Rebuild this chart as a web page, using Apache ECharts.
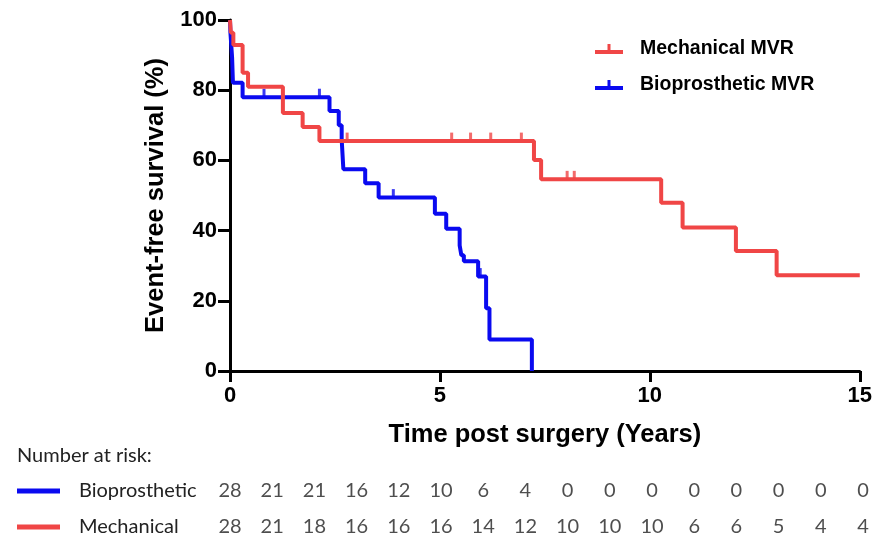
<!DOCTYPE html>
<html>
<head>
<meta charset="utf-8">
<script src="https://cdn.jsdelivr.net/npm/echarts@6/dist/echarts.min.js"></script>
<style>html,body{margin:0;padding:0;background:#fff}#c{width:875px;height:537px}</style>
</head>
<body>
<div id="c"></div>
<script>
// Kaplan-Meier step points (time in years, survival %)
var mechTime = [0, 0.02, 0.08, 0.30, 0.43, 1.26, 1.73, 2.13, 7.24, 7.41, 10.27, 10.78, 12.05, 13.02, 15];
var mechSurv = [100, 96.4, 92.9, 85.0, 81.0, 73.5, 69.5, 65.5, 60.1, 54.6, 47.9, 40.9, 34.2, 27.3, 27.3];
var bioTime = [0, 0.01, 0.03, 0.05, 0.07, 0.30, 2.37, 2.59, 2.66, 2.70, 3.22, 3.54, 4.88, 5.15, 5.47, 5.51, 5.57, 5.91, 6.10, 6.18, 7.19];
var bioSurv = [100, 96.4, 92.9, 89.3, 82.1, 78.0, 74.1, 70.0, 66.0, 57.5, 53.5, 49.4, 44.8, 40.5, 35.8, 33.0, 31.3, 26.9, 17.9, 9.0, 0];
// censored observations
var mechCensTime = [2.79, 5.28, 5.73, 6.21, 6.94, 8.03, 8.20];
var mechCensSurv = [65.5, 65.5, 65.5, 65.5, 65.5, 54.6, 54.6];
var bioCensTime = [0.81, 2.13, 3.89, 5.96];
var bioCensSurv = [78.0, 78.0, 49.4, 26.9];
// number at risk at each year
var riskYears = [0,1,2,3,4,5,6,7,8,9,10,11,12,13,14,15];
var bioRisk = [28,21,21,16,12,10,6,4,0,0,0,0,0,0,0,0];
var mechRisk = [28,21,18,16,16,16,14,12,10,10,10,6,6,5,4,4];

var RED = '#f04646', BLUE = '#0a0af0';
var BOLD = 'Liberation Sans, Arial, sans-serif';
function zip(a, b) { return a.map(function (v, i) { return [v, b[i]]; }); }
function riskData(arr, row) { return riskYears.map(function (y, i) { return [y, row, arr[i]]; }); }

var chart = echarts.init(document.getElementById('c'), null, {renderer: 'canvas'});
var iconPath = 'path://M0,6h28v4h-28z M12.5,0h3v6h-3z';
var riskLabel = {show: true, position: 'inside', formatter: function (p) { return p.value[2]; },
                 fontFamily: 'Lato', fontSize: 20, color: '#222'};
chart.setOption({
  animation: false,
  backgroundColor: '#fff',
  title: {
    text: 'Number at risk:', left: 12, top: 441,
    textStyle: {fontFamily: 'Lato', fontSize: 20, fontWeight: 'normal', color: '#222'}
  },
  legend: {
    orient: 'vertical', left: 590, top: 34, itemWidth: 28, itemHeight: 10, itemGap: 16,
    data: [{name: 'Mechanical MVR', icon: iconPath}, {name: 'Bioprosthetic MVR', icon: iconPath}],
    textStyle: {fontFamily: BOLD, fontSize: 19.5, fontWeight: 'bold', color: '#000', padding: [0, 0, 0, 12]}
  },
  grid: [
    {left: 230, right: 12, top: 20, bottom: 166},
    {left: 230, right: 12, top: 491, bottom: 10}
  ],
  xAxis: [{
    type: 'value', gridIndex: 0, min: 0, max: 15, interval: 5,
    name: 'Time post surgery (Years)', nameLocation: 'middle', nameGap: 51,
    nameTextStyle: {fontFamily: BOLD, fontSize: 25.5, fontWeight: 'bold', color: '#000'},
    axisLine: {lineStyle: {color: '#000', width: 3}},
    axisTick: {length: 11, lineStyle: {color: '#000', width: 3}},
    axisLabel: {margin: 14, fontFamily: BOLD, fontSize: 22, fontWeight: 'bold', color: '#000'},
    splitLine: {show: false}
  }, {
    type: 'value', gridIndex: 1, min: 0, max: 15, show: false
  }],
  yAxis: [{
    type: 'value', gridIndex: 0, min: 0, max: 100, interval: 20,
    name: 'Event-free survival (%)', nameLocation: 'middle', nameGap: 58,
    nameTextStyle: {fontFamily: BOLD, fontSize: 25.5, fontWeight: 'bold', color: '#000'},
    axisLine: {show: true, lineStyle: {color: '#000', width: 3}},
    axisTick: {show: true, length: 12, lineStyle: {color: '#000', width: 3}},
    axisLabel: {margin: 13, fontFamily: BOLD, fontSize: 22, fontWeight: 'bold', color: '#000'},
    splitLine: {show: false}
  }, {
    type: 'value', gridIndex: 1, min: 0, max: 1, interval: 1,
    axisLine: {show: false}, axisTick: {show: false}, splitLine: {show: false},
    axisLabel: {
      align: 'left', margin: 213,
      formatter: function (v) { return v === 1 ? '{b|}{t|Bioprosthetic}' : '{r|}{t|Mechanical}'; },
      rich: {
        b: {backgroundColor: BLUE, width: 43, height: 5, verticalAlign: 'middle'},
        r: {backgroundColor: RED, width: 43, height: 5, verticalAlign: 'middle'},
        t: {fontFamily: 'Lato', fontSize: 20, color: '#222', padding: [0, 0, 0, 19], verticalAlign: 'middle'}
      }
    }
  }],
  series: [
    {name: 'Bioprosthetic MVR', type: 'line', step: 'end', showSymbol: false, symbol: 'none',
     data: zip(bioTime, bioSurv), lineStyle: {color: BLUE, width: 4}, itemStyle: {color: BLUE}},
    {name: 'Mechanical MVR', type: 'line', step: 'end', showSymbol: false, symbol: 'none',
     data: zip(mechTime, mechSurv), lineStyle: {color: RED, width: 4}, itemStyle: {color: RED}},
    {name: 'bioCens', type: 'scatter', symbol: 'rect', symbolSize: [3, 9], symbolOffset: [0, -4],
     data: zip(bioCensTime, bioCensSurv), itemStyle: {color: BLUE}},
    {name: 'mechCens', type: 'scatter', symbol: 'rect', symbolSize: [3, 9], symbolOffset: [0, -4],
     data: zip(mechCensTime, mechCensSurv), itemStyle: {color: RED}},
    {name: 'bioRisk', type: 'scatter', xAxisIndex: 1, yAxisIndex: 1, symbolSize: 1,
     itemStyle: {color: 'rgba(0,0,0,0)'}, data: riskData(bioRisk, 1), label: riskLabel},
    {name: 'mechRisk', type: 'scatter', xAxisIndex: 1, yAxisIndex: 1, symbolSize: 1,
     itemStyle: {color: 'rgba(0,0,0,0)'}, data: riskData(mechRisk, 0), label: riskLabel}
  ]
});
</script>
</body>
</html>
